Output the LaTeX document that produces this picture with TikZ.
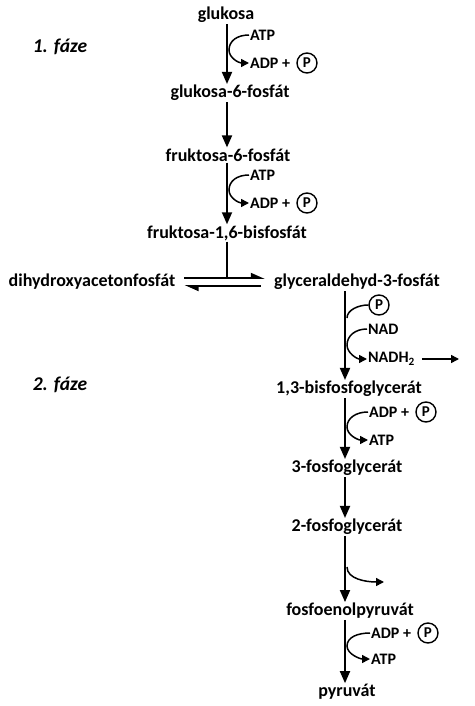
\documentclass[tikz,border=0pt]{standalone}
\usepackage{fontspec}
\setmainfont{Carlito}
\usetikzlibrary{arrows.meta, positioning, calc}

\begin{document}
\begin{tikzpicture}[
        x=1pt, y=-1pt,
        every node/.style={font=\bfseries\fontsize{18}{20}\selectfont, inner sep=1pt},
        cof/.style={font=\bfseries\fontsize{16}{18}\selectfont, anchor=west, inner sep=1pt},
        phase/.style={font=\bfseries\itshape\fontsize{19.5}{22}\selectfont},
        pcirc/.style={draw, circle, line width=1.4pt, minimum size=20pt, inner sep=0pt, font=\bfseries\fontsize{15}{17}\selectfont},
        arr/.style={-{Triangle[length=12pt, width=10pt]}, line width=1.8pt},
        side/.style={-{Triangle[length=8pt, width=8pt]}, line width=1.5pt},
        eq/.style={line width=1.8pt},
    ]
    \useasboundingbox (0,0) rectangle (474,706);

    %% Phase labels
    \node[phase] (ph1) at (60,47) {1. fáze};
    \node[phase] (ph2) at (60,385) {2. fáze};

    %% Phase 1: metabolites
    \node (glc) at (226,15) {glukosa};
    \node (g6p) at (230,93) {glukosa-6-fosfát};
    \node (f6p) at (228,155) {fruktosa-6-fosfát};
    \node (fbp) at (227,233) {fruktosa-1,6-bisfosfát};
    \node (dhap) at (92,282) {dihydroxyacetonfosfát};
    \node (gap) at (357,282) {glyceraldehyd-3-fosfát};

    %% Step 1: hexokinase
    \draw[arr] (glc.south -| fbp) -- (g6p.north -| fbp);
    \node[cof] (atp1) at (249,35) {ATP};
    \node[cof] (adp1) at (249,63) {ADP +};
    \node[pcirc, right=5pt of adp1] (p1) {P};
    \coordinate (k1) at (229,50);
    \draw[side] (atp1.west) .. controls +(-12,0) and +(0,-9) .. (k1) .. controls +(0,8) and +(-10,0) .. (adp1.west);

    %% Step 2: isomerase
    \draw[arr] (g6p.south -| fbp) -- (f6p.north -| fbp);

    %% Step 3: phosphofructokinase
    \draw[arr] (f6p.south -| fbp) -- (fbp);
    \node[cof] (atp2) at (249,175) {ATP};
    \node[cof] (adp2) at (249,203) {ADP +};
    \node[pcirc, right=5pt of adp2] (p2) {P};
    \coordinate (k2) at (229,190);
    \draw[side] (atp2.west) .. controls +(-12,0) and +(0,-9) .. (k2) .. controls +(0,8) and +(-10,0) .. (adp2.west);

    %% Step 4: aldolase + triose equilibrium
    \coordinate (eqa) at ([yshift=4pt]dhap.east);
    \draw[eq] (fbp) -- (fbp |- eqa);
    \draw[eq, -{Triangle[harpoon, length=12pt, width=10pt]}, shorten <=8pt, shorten >=8pt]
        ([yshift=4pt]dhap.east) -- ([yshift=4pt]gap.west);
    \draw[eq, -{Triangle[harpoon, length=12pt, width=10pt]}, shorten <=12pt, shorten >=8pt]
        ([yshift=-4pt]gap.west) -- ([yshift=-4pt]dhap.east);

    %% Phase 2: metabolites
    \node (bpg) at (349,389) {1,3-bisfosfoglycerát};
    \node (pg3) at (347,468) {3-fosfoglycerát};
    \node (pg2) at (347,527) {2-fosfoglycerát};
    \node (pep) at (350,611) {fosfoenolpyruvát};
    \node (pyr) at (347,692) {pyruvát};
    \coordinate (ax) at (345,0);

    %% Step 5: GAP dehydrogenase
    \draw[arr] (gap.south -| ax) -- (bpg.north -| ax);
    \node[pcirc] (p3) at (379,305) {P};
    \coordinate (k3) at (347,318);
    \draw[line width=1.5pt] (p3.west) .. controls +(-10,0) and +(0,-8) .. (k3);
    \node[cof] (nad) at (367,329) {NAD};
    \node[cof] (nadh) at (367,359) {NADH\textsubscript{2}};
    \coordinate (k4) at (347,345);
    \draw[side] (nad.west) .. controls +(-12,0) and +(0,-9) .. (k4) .. controls +(0,8) and +(-10,0) .. (nadh.west);
    \coordinate (nout) at (459,359);
    \draw[side] ([xshift=6pt]nadh.east) -- (nout);

    %% Step 6: phosphoglycerate kinase
    \draw[arr] (bpg.south -| ax) -- (pg3.north -| ax);
    \node[cof] (adp3) at (368,412) {ADP +};
    \node[pcirc, right=5pt of adp3] (p4) {P};
    \node[cof] (atp3) at (368,440) {ATP};
    \coordinate (k5) at (347,427);
    \draw[side] (adp3.west) .. controls +(-12,0) and +(0,-9) .. (k5) .. controls +(0,8) and +(-10,0) .. (atp3.west);

    %% Step 7: mutase
    \draw[arr] (pg3.south -| ax) -- (pg2.north -| ax);

    %% Step 8: enolase
    \draw[arr] (pg2.south -| ax) -- (pep.north -| ax);
    \coordinate (k6) at (347,567);
    \coordinate (wout) at (384,582);
    \draw[side] (k6) .. controls +(0,12) and +(-18,0) .. (wout);

    %% Step 9: pyruvate kinase
    \draw[arr] (pep.south -| ax) -- (pyr.north -| ax);
    \node[cof] (adp4) at (370,633) {ADP +};
    \node[pcirc, right=5pt of adp4] (p5) {P};
    \node[cof] (atp4) at (370,659) {ATP};
    \coordinate (k7) at (347,646);
    \draw[side] (adp4.west) .. controls +(-12,0) and +(0,-9) .. (k7) .. controls +(0,8) and +(-10,0) .. (atp4.west);
\end{tikzpicture}
\end{document}
